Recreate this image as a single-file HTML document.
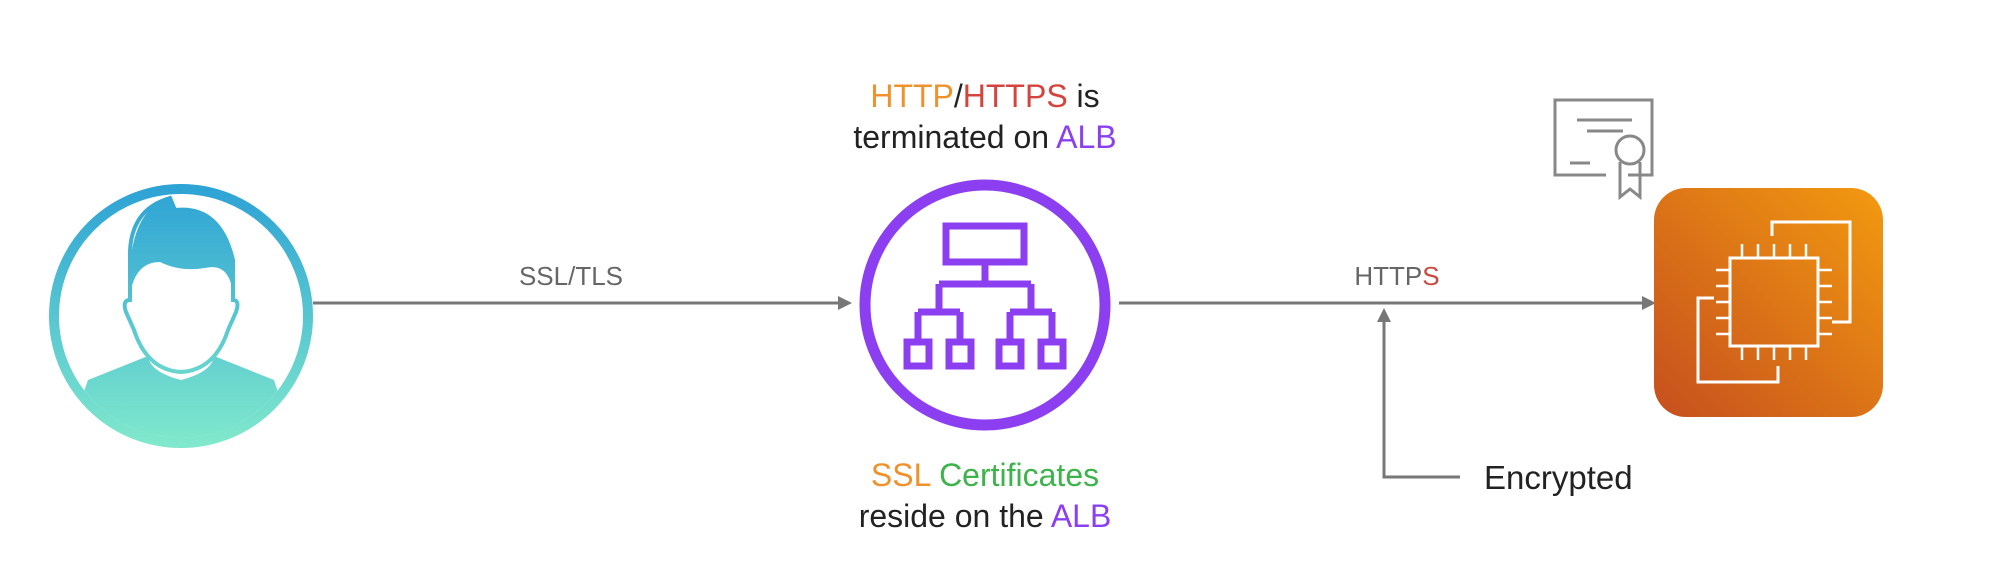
<!DOCTYPE html>
<html><head><meta charset="utf-8"><style>
body{margin:0;width:1995px;height:576px;background:#fff;overflow:hidden;font-family:"Liberation Sans",sans-serif}
</style></head><body>
<svg width="1995" height="576" viewBox="0 0 1995 576" xmlns="http://www.w3.org/2000/svg">
<defs>
<linearGradient id="ug" gradientUnits="userSpaceOnUse" x1="0" y1="189" x2="0" y2="443"><stop offset="0" stop-color="#2ea3d5"/><stop offset="1" stop-color="#80e8cc"/></linearGradient>
<linearGradient id="eg" x1="1" y1="0" x2="0" y2="1"><stop offset="0" stop-color="#f29a10"/><stop offset="1" stop-color="#c64f1e"/></linearGradient>
<clipPath id="uc"><circle cx="181" cy="316" r="122"/></clipPath>
</defs>
<!-- user -->
<circle cx="181" cy="316" r="127" fill="none" stroke="url(#ug)" stroke-width="10"/>
<g clip-path="url(#uc)" fill="url(#ug)">
<path d="M88 380 L148 356 Q150 372 181 380 Q212 372 214 356 L274 380 L300 460 L60 460Z"/>
<path d="M130 260 Q128 210 170 198 L175 210 Q220 205 233 260 L233 300 Q240 300 236 312 L228 330 Q215 370 181 372 Q147 370 134 330 L126 312 Q122 300 130 300Z" fill="#fff" stroke="url(#ug)" stroke-width="4"/>
<path d="M130 295 Q126 210 170 198 L175 210 Q222 205 233 260 L233 295 Q230 262 205 268 Q180 272 160 262 Q135 262 130 295Z"/>
</g>
<!-- arrows -->
<g stroke="#777" stroke-width="3" fill="none">
<line x1="313" y1="303" x2="842" y2="303"/>
<line x1="1119" y1="303" x2="1646" y2="303"/>
<polyline points="1460,477 1384,477 1384,316"/>
</g>
<g fill="#777">
<polygon points="852,303 838,296 838,310"/>
<polygon points="1656,303 1642,296 1642,310"/>
<polygon points="1384,308 1377,322 1391,322"/>
</g>
<text x="571" y="285" font-size="26" fill="#666" text-anchor="middle">SSL/TLS</text>
<text x="1397" y="285" font-size="26" fill="#666" text-anchor="middle">HTTP<tspan fill="#c94a3f">S</tspan></text>
<text x="1484" y="489" font-size="33" fill="#222">Encrypted</text>
<!-- ALB -->
<circle cx="985" cy="305" r="120" fill="none" stroke="#8b3ff0" stroke-width="11"/>
<g stroke="#8b3ff0" stroke-width="7" fill="none">
<rect x="946" y="226" width="78" height="36"/>
<line x1="985" y1="262" x2="985" y2="284"/>
<line x1="939" y1="284" x2="1031" y2="284"/>
<line x1="939" y1="284" x2="939" y2="312"/>
<line x1="1031" y1="284" x2="1031" y2="312"/>
<line x1="918" y1="312" x2="960" y2="312"/>
<line x1="1010" y1="312" x2="1052" y2="312"/>
<line x1="918" y1="312" x2="918" y2="342"/><line x1="960" y1="312" x2="960" y2="342"/>
<line x1="1010" y1="312" x2="1010" y2="342"/><line x1="1052" y1="312" x2="1052" y2="342"/>
<rect x="907" y="342" width="22" height="24"/><rect x="949" y="342" width="22" height="24"/>
<rect x="999" y="342" width="22" height="24"/><rect x="1041" y="342" width="22" height="24"/>
</g>
<text x="985" y="107" font-size="32" text-anchor="middle" fill="#222"><tspan fill="#f0922c">HTTP</tspan>/<tspan fill="#d5443c">HTTPS</tspan> is</text>
<text x="985" y="148" font-size="32" text-anchor="middle" fill="#222">terminated on <tspan fill="#8b3ff0">ALB</tspan></text>
<text x="985" y="486" font-size="32" text-anchor="middle"><tspan fill="#f0922c">SSL</tspan> <tspan fill="#3cb44b">Certificates</tspan></text>
<text x="985" y="527" font-size="32" text-anchor="middle" fill="#222">reside on the <tspan fill="#8b3ff0">ALB</tspan></text>
<!-- cert -->
<g stroke="#888" stroke-width="3" fill="none">
<polyline points="1628,175 1652,175 1652,100 1555,100 1555,175 1606,175"/>
<line x1="1577" y1="120" x2="1632" y2="120"/><line x1="1587" y1="131" x2="1623" y2="131"/>
<line x1="1570" y1="163" x2="1590" y2="163"/>
<circle cx="1630" cy="150" r="14"/>
<polyline points="1620,162 1620,197 1630,189 1640,197 1640,162"/>
</g>
<!-- EC2 -->
<rect x="1654" y="188" width="229" height="229" rx="32" fill="url(#eg)"/>
<g stroke="#fff" stroke-width="3" fill="none">
<polyline points="1772,236 1772,222 1850,222 1850,322 1832,322"/>
<polyline points="1714,298 1698,298 1698,382 1778,382 1778,366"/>
<rect x="1730" y="258" width="88" height="88"/>
<g stroke-width="2.5">
<line x1="1742" y1="244" x2="1742" y2="258"/><line x1="1758" y1="244" x2="1758" y2="258"/><line x1="1774" y1="244" x2="1774" y2="258"/><line x1="1790" y1="244" x2="1790" y2="258"/><line x1="1806" y1="244" x2="1806" y2="258"/>
<line x1="1742" y1="346" x2="1742" y2="360"/><line x1="1758" y1="346" x2="1758" y2="360"/><line x1="1774" y1="346" x2="1774" y2="360"/><line x1="1790" y1="346" x2="1790" y2="360"/><line x1="1806" y1="346" x2="1806" y2="360"/>
<line x1="1716" y1="270" x2="1730" y2="270"/><line x1="1716" y1="286" x2="1730" y2="286"/><line x1="1716" y1="302" x2="1730" y2="302"/><line x1="1716" y1="318" x2="1730" y2="318"/><line x1="1716" y1="334" x2="1730" y2="334"/>
<line x1="1818" y1="270" x2="1832" y2="270"/><line x1="1818" y1="286" x2="1832" y2="286"/><line x1="1818" y1="302" x2="1832" y2="302"/><line x1="1818" y1="318" x2="1832" y2="318"/><line x1="1818" y1="334" x2="1832" y2="334"/>
</g>
</g>
</svg>
</body></html>
